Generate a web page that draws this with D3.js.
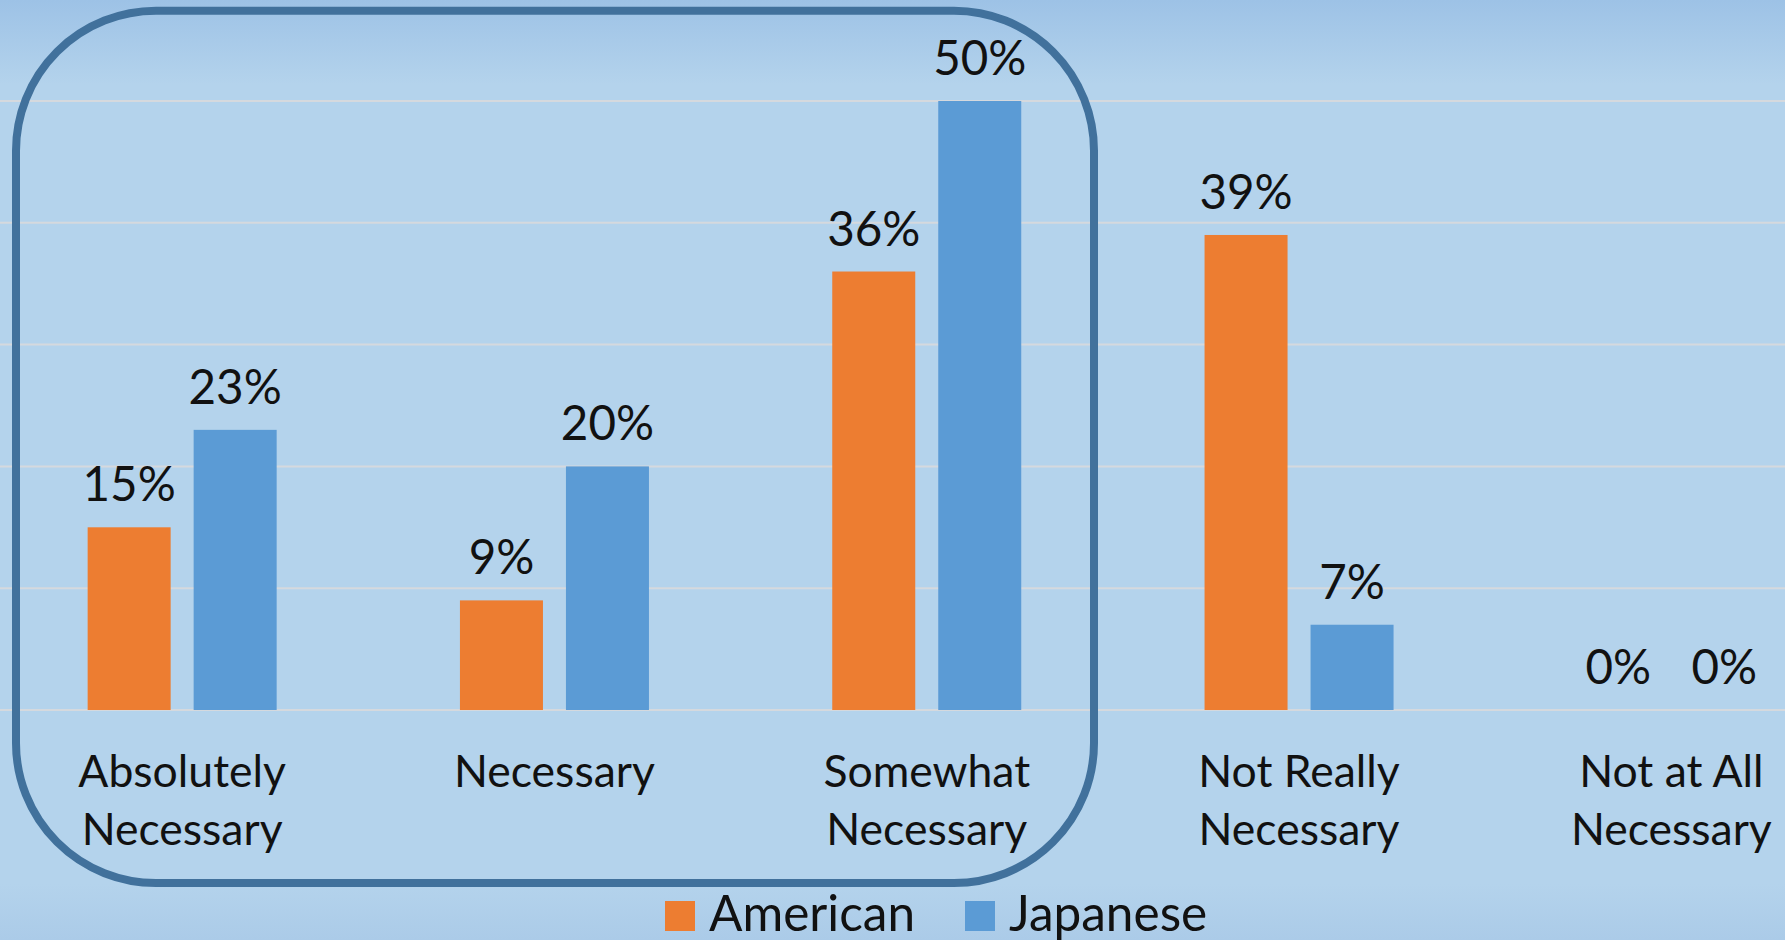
<!DOCTYPE html>
<html>
<head>
<meta charset="utf-8">
<script src="https://cdn.jsdelivr.net/npm/d3@7"></script>
<style>
  html, body { margin: 0; padding: 0; overflow: hidden; }
  svg { display: block; }
  text { font-family: Lato, "Open Sans", sans-serif; fill: #111; }
</style>
</head>
<body>
<svg id="chart" width="1785" height="940"></svg>
<script>
// Survey responses: how necessary is it...
const categories = [
  ["Absolutely", "Necessary"],
  ["Necessary"],
  ["Somewhat", "Necessary"],
  ["Not Really", "Necessary"],
  ["Not at All", "Necessary"]
];
const seriesNames = ["American", "Japanese"];
const american = [15, 9, 36, 39, 0];
const japanese = [23, 20, 50, 7, 0];
const gridTicks = [0, 10, 20, 30, 40, 50];
const colors = ["#ED7D31", "#5B9BD5"];

const W = 1785, H = 940;
const svg = d3.select("#chart");

// background gradient
const defs = svg.append("defs");
const grad = defs.append("linearGradient").attr("id", "bg")
  .attr("x1", 0).attr("y1", 0).attr("x2", 0).attr("y2", 1);
grad.append("stop").attr("offset", "0%").attr("stop-color", "#9dc2e6");
grad.append("stop").attr("offset", "9%").attr("stop-color", "#b4d3ec");
grad.append("stop").attr("offset", "94%").attr("stop-color", "#b4d3ec");
grad.append("stop").attr("offset", "100%").attr("stop-color", "#abcbe8");
svg.append("rect").attr("width", W).attr("height", H).attr("fill", "url(#bg)");

const catKeys = categories.map(c => c.join(" "));
const x = d3.scaleBand().domain(catKeys).range([-4, 1857.5]).padding(0);
const xs = d3.scaleBand().domain(seriesNames).range([0, x.step()])
  .paddingInner(0.217).paddingOuter(0.8646);
const y = d3.scaleLinear().domain([0, 50]).range([710, 101]);

// gridlines
svg.append("g").selectAll("line").data(gridTicks).join("line")
  .attr("x1", 0).attr("x2", W)
  .attr("y1", d => y(d)).attr("y2", d => y(d))
  .attr("stroke", "#d5d9de").attr("stroke-width", 2);

const rows = catKeys.map((k, i) => ({ key: k, values: [american[i], japanese[i]] }));

const groups = svg.append("g").selectAll("g").data(rows).join("g")
  .attr("transform", d => `translate(${x(d.key)},0)`);

groups.selectAll("rect").data(d => d.values.map((v, j) => ({ v, s: seriesNames[j], j })))
  .join("rect")
  .attr("x", d => xs(d.s))
  .attr("width", xs.bandwidth())
  .attr("y", d => y(d.v))
  .attr("height", d => y(0) - y(d.v))
  .attr("fill", d => colors[d.j]);

groups.selectAll("text.val").data(d => d.values.map((v, j) => ({ v, s: seriesNames[j] })))
  .join("text").attr("class", "val")
  .attr("x", d => xs(d.s) + xs.bandwidth() / 2)
  .attr("y", d => y(d.v) - 26)
  .attr("text-anchor", "middle")
  .attr("font-size", 47.5)
  .text(d => d.v + "%");

// category labels
const cat = svg.append("g").selectAll("text").data(categories).join("text")
  .attr("x", (d, i) => x(catKeys[i]) + x.bandwidth() / 2)
  .attr("y", 787)
  .attr("text-anchor", "middle")
  .attr("font-size", 44.5);
cat.selectAll("tspan").data(d => d).join("tspan")
  .attr("x", function () { return d3.select(this.parentNode).attr("x"); })
  .attr("dy", (d, i) => i === 0 ? 0 : 58)
  .text(d => d);

// highlight frame around the first three categories
svg.append("rect")
  .attr("x", 16).attr("y", 10.7)
  .attr("width", 1094 - 16).attr("height", 883 - 10.7)
  .attr("rx", 140).attr("ry", 140)
  .attr("fill", "none").attr("stroke", "#41719c").attr("stroke-width", 8);

// legend
const legend = svg.append("g");
const legendItems = [
  { name: seriesNames[0], color: colors[0], sx: 665, tx: 709 },
  { name: seriesNames[1], color: colors[1], sx: 965, tx: 1009 }
];
legend.selectAll("rect").data(legendItems).join("rect")
  .attr("x", d => d.sx).attr("y", 901).attr("width", 30).attr("height", 30)
  .attr("fill", d => d.color);
legend.selectAll("text").data(legendItems).join("text")
  .attr("x", d => d.tx).attr("y", 931)
  .attr("font-size", 49.5)
  .text(d => d.name);
</script>
</body>
</html>
